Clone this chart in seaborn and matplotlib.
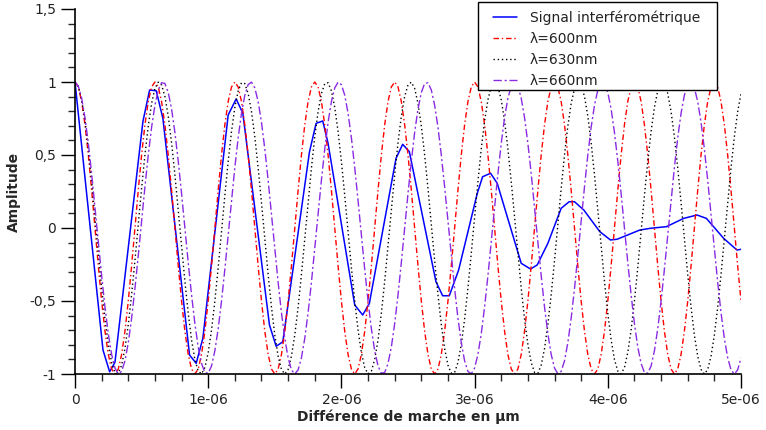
import numpy as np
import pandas as pd
import matplotlib
matplotlib.use("Agg")
import matplotlib.pyplot as plt
import seaborn as sns
from matplotlib.patches import Rectangle
from matplotlib.ticker import MultipleLocator, FuncFormatter

# Différence de marche (µm), pas de 0.025 µm pour les trois raies
pas = 0.025
n_points = 201

# lambda = 600 nm (periode de 24 points)
cycle600 = [1.0, 0.966, 0.866, 0.707, 0.5, 0.259, 0.0, -0.259, -0.5, -0.707, -0.866, -0.966,
            -1.0, -0.966, -0.866, -0.707, -0.5, -0.259, 0.0, 0.259, 0.5, 0.707, 0.866, 0.966]
y600 = cycle600 * 8 + cycle600[:9]

# lambda = 630 nm (demi-cycle de 64 points, 5 periodes en 126 points)
demi630 = [1.0, 0.969, 0.878, 0.733, 0.542, 0.318, 0.075, -0.174, -0.411, -0.624,
           -0.797, -0.921, -0.989, -0.995, -0.940, -0.826, -0.661, -0.456, -0.223, 0.025,
           0.271, 0.5, 0.698, 0.853, 0.956, 0.999, 0.980, 0.901, 0.766, 0.584,
           0.365, 0.124, -0.124, -0.365, -0.584, -0.766, -0.901, -0.980, -0.999, -0.956,
           -0.853, -0.698, -0.5, -0.271, -0.025, 0.223, 0.456, 0.661, 0.826, 0.940,
           0.995, 0.989, 0.921, 0.797, 0.624, 0.411, 0.174, -0.075, -0.318, -0.542,
           -0.733, -0.878, -0.969, -1.0]
cycle630 = demi630 + demi630[-2:0:-1]
y630 = cycle630 + cycle630[:75]

# lambda = 660 nm (demi-cycle de 67 points, 5 periodes en 132 points)
demi660 = [1.0, 0.972, 0.889, 0.756, 0.580, 0.372, 0.142, -0.095, -0.327, -0.541,
           -0.724, -0.866, -0.959, -0.999, -0.982, -0.910, -0.786, -0.618, -0.415, -0.189,
           0.048, 0.282, 0.5, 0.690, 0.841, 0.945, 0.995, 0.990, 0.928, 0.815,
           0.655, 0.458, 0.236, 0.0, -0.236, -0.458, -0.655, -0.815, -0.928, -0.990,
           -0.995, -0.945, -0.841, -0.690, -0.5, -0.282, -0.048, 0.189, 0.415, 0.618,
           0.786, 0.910, 0.982, 0.999, 0.959, 0.866, 0.724, 0.541, 0.327, 0.095,
           -0.142, -0.372, -0.580, -0.756, -0.889, -0.972, -1.0]
cycle660 = demi660 + demi660[-2:0:-1]
y660 = cycle660 + cycle660[:69]

# signal interférométrique
x_signal = [0.0, 0.21, 0.26, 0.30, 0.51, 0.56, 0.61, 0.66, 0.86, 0.91, 0.96, 1.15, 1.21,
            1.26, 1.46, 1.51, 1.56, 1.76, 1.81, 1.86, 1.90, 2.10, 2.16, 2.21, 2.41, 2.46,
            2.51, 2.71, 2.76, 2.81, 2.88, 3.02, 3.06, 3.12, 3.17, 3.23, 3.35, 3.42, 3.47,
            3.55, 3.65, 3.71, 3.75, 3.82, 3.94, 4.02, 4.07, 4.24, 4.32, 4.44, 4.57, 4.67,
            4.74, 4.87, 4.97, 5.0]
y_signal = [1.0, -0.835, -0.985, -0.92, 0.73, 0.945, 0.94, 0.75, -0.87, -0.927, -0.755,
            0.774, 0.884, 0.786, -0.664, -0.81, -0.78, 0.52, 0.717, 0.733, 0.58, -0.527,
            -0.596, -0.516, 0.477, 0.573, 0.523, -0.368, -0.464, -0.464, -0.288, 0.237,
            0.351, 0.375, 0.306, 0.123, -0.242, -0.281, -0.253, -0.105, 0.135, 0.18, 0.18,
            0.123, -0.025, -0.082, -0.077, -0.014, -0.002, 0.009, 0.066, 0.089, 0.066,
            -0.071, -0.151, -0.146]

x_raies = [k * pas * 1e-6 for k in range(n_points)]

df_signal = pd.DataFrame({"x": [v * 1e-6 for v in x_signal], "y": y_signal})
df600 = pd.DataFrame({"x": x_raies, "y": y600})
df630 = pd.DataFrame({"x": x_raies, "y": y630})
df660 = pd.DataFrame({"x": x_raies, "y": y660})

sns.set_style("ticks")
plt.rcParams["font.family"] = ["DejaVu Sans"]

W, H = 766, 430
fig = plt.figure(figsize=(W / 100, H / 100), dpi=100)
ax = fig.add_axes([75 / W, 1 - 374 / H, 666 / W, 365 / H])

sns.lineplot(data=df_signal, x="x", y="y", ax=ax, color="#0000ff", lw=1.1,
             sort=False, estimator=None, label="Signal interférométrique")
sns.lineplot(data=df600, x="x", y="y", ax=ax, color="#ff0000", lw=1.0,
             sort=False, estimator=None, label="λ=600nm")
sns.lineplot(data=df630, x="x", y="y", ax=ax, color="#000000", lw=1.0,
             sort=False, estimator=None, label="λ=630nm")
sns.lineplot(data=df660, x="x", y="y", ax=ax, color="#8a2be2", lw=1.0,
             sort=False, estimator=None, label="λ=660nm")
lignes = ax.get_lines()
lignes[1].set_dashes([4, 2, 1, 2])
lignes[2].set_dashes([1, 2])
lignes[3].set_dashes([6, 2, 1.5, 2])

ax.set_xlim(0, 5e-6)
ax.set_ylim(-1, 1.5)
ax.xaxis.set_major_locator(MultipleLocator(1e-6))
ax.xaxis.set_minor_locator(MultipleLocator(2e-7))
ax.yaxis.set_major_locator(MultipleLocator(0.5))
ax.yaxis.set_minor_locator(MultipleLocator(0.1))
ax.xaxis.set_major_formatter(FuncFormatter(lambda v, p: "0" if abs(v) < 1e-12 else "%g" % v))
ax.yaxis.set_major_formatter(FuncFormatter(lambda v, p: ("%g" % v).replace(".", ",")))
ax.tick_params(axis="both", which="major", length=10, width=1, labelsize=10,
               colors="black", labelcolor="#222222")
ax.tick_params(axis="both", which="minor", length=5, width=1)
for c in ["top", "right"]:
    ax.spines[c].set_visible(False)
for c in ["left", "bottom"]:
    ax.spines[c].set_linewidth(1.2)
    ax.spines[c].set_color("black")

ax.set_xlabel("Différence de marche en µm", fontsize=10, fontweight="bold", labelpad=2)
ax.set_ylabel("Amplitude", fontsize=10, fontweight="bold", labelpad=6)

# cadre de la légende (fond blanc au-dessus des courbes)
cadre = Rectangle((478 / W, 1 - 90 / H), 239 / W, 88 / H, transform=fig.transFigure,
                  facecolor="white", edgecolor="black", lw=1.0, zorder=5, clip_on=False)
fig.patches.append(cadre)

leg = ax.legend(loc="upper left", bbox_to_anchor=(493 / W, 1 - 10.5 / H),
                bbox_transform=fig.transFigure, fontsize=10, frameon=False,
                handlelength=1.75, borderpad=0, labelspacing=0.5, handletextpad=0.9,
                borderaxespad=0)
leg.set_zorder(6)
fig.legends.append(ax.get_legend())
ax.get_legend().remove()
for t in fig.legends[0].get_texts():
    t.set_color("#222222")

fig.savefig("out.png", dpi=100)
